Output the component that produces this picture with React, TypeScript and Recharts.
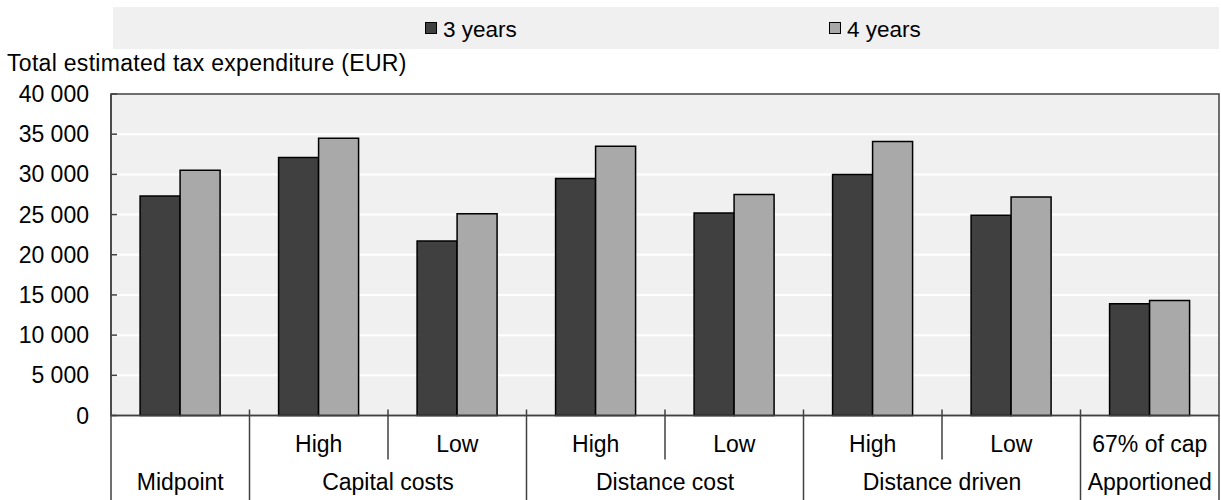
import React from 'react';
import { BarChart, Bar, XAxis, YAxis, CartesianGrid, Legend, ReferenceArea } from 'recharts';

// ---- data ----
const groups = ['Midpoint', 'Capital costs', 'Capital costs', 'Distance cost', 'Distance cost', 'Distance driven', 'Distance driven', 'Apportioned'];
const subLabels = ['', 'High', 'Low', 'High', 'Low', 'High', 'Low', '67% of cap'];
const threeYears = [27300, 32100, 21700, 29500, 25200, 30000, 24900, 13900];
const fourYears = [30500, 34500, 25100, 33500, 27500, 34100, 27200, 14300];
const seriesNames = ['3 years', '4 years'];
const yTicks = [0, 5000, 10000, 15000, 20000, 25000, 30000, 35000, 40000];
const yLabel = 'Total estimated tax expenditure (EUR)';

const data = groups.map((g, i) => ({ id: i, group: g, sub: subLabels[i], y3: threeYears[i], y4: fourYears[i] }));

// ---- layout / style ----
const W = 1221;
const H = 500;
const MARGIN = { top: 94, right: 2, bottom: 0, left: 0 };
const Y_AXIS_W = 111;
const ROW1_H = 40;
const ROW2_H = 44.5;
const PLOT_W = W - MARGIN.left - MARGIN.right - Y_AXIS_W;
const HALF_BAND = PLOT_W / groups.length / 2;
const Y_TICK_MARGIN = 22;
const FONT = '"Liberation Sans", Arial, Helvetica, sans-serif';
const FS = 23;
const LINE = '#404040';
const COLORS = ['#404040', '#a9a9a9'];
const BG = '#f0f0f0';

const fmt = (v: number) => String(v).replace(/\B(?=(\d{3})+(?!\d))/g, ' ');

const YTick = (props: any) => {
  const { x, y, payload } = props;
  return (
    <g>
      <line x1={x + Y_TICK_MARGIN} x2={x + Y_TICK_MARGIN + 6} y1={y} y2={y} stroke={LINE} strokeWidth={1.5} />
      <text x={x} y={y} dy="0.35em" textAnchor="end" fontFamily={FONT} fontSize={FS} fill="#000">
        {fmt(payload.value)}
      </text>
    </g>
  );
};

const SubTick = (props: any) => {
  const { x, y, index } = props;
  const left = x - HALF_BAND;
  const inner = index > 0 && groups[index] === groups[index - 1];
  return (
    <g>
      {index > 0 && <line x1={left} x2={left} y1={y - 6} y2={y} stroke={LINE} strokeWidth={1.5} />}
      {inner && <line x1={left} x2={left} y1={y} y2={y + 44} stroke={LINE} strokeWidth={1.5} />}
      <text x={x} y={y + 36} textAnchor="middle" fontFamily={FONT} fontSize={FS} fill="#000">
        {subLabels[index]}
      </text>
    </g>
  );
};

const GroupTick = (props: any) => {
  const { x, y, index } = props;
  const left = x - HALF_BAND;
  const isStart = index === 0 || groups[index] !== groups[index - 1];
  const isLast = index === groups.length - 1;
  let n = 1;
  while (index + n < groups.length && groups[index + n] === groups[index]) n++;
  return (
    <g>
      {isStart && <line x1={left} x2={left} y1={y - ROW1_H} y2={H} stroke={LINE} strokeWidth={1.5} />}
      {isLast && <line x1={x + HALF_BAND} x2={x + HALF_BAND} y1={y - ROW1_H} y2={H} stroke={LINE} strokeWidth={1.5} />}
      {isStart && (
        <text x={left + n * HALF_BAND} y={y + 34.5} textAnchor="middle" fontFamily={FONT} fontSize={FS} fill="#000">
          {groups[index]}
        </text>
      )}
    </g>
  );
};

const LEG_X = [312, 716];
const LegendContent = () => (
  <div style={{ position: 'relative', width: PLOT_W - 2, height: 42, background: BG, fontFamily: FONT, fontSize: 22.5, color: '#000' }}>
    {seriesNames.map((n, i) => (
      <div key={n} style={{ position: 'absolute', left: LEG_X[i], top: 0, height: 42, display: 'flex', alignItems: 'center' }}>
        <span style={{ display: 'inline-block', width: 10, height: 10, border: '1px solid #000', background: COLORS[i], marginRight: 6 }} />
        <span style={{ paddingTop: 3 }}>{n}</span>
      </div>
    ))}
  </div>
);

export default function App() {
  return (
    <div style={{ position: 'absolute', left: 0, top: 0, width: W, height: H, background: '#fff' }}>
      <BarChart width={W} height={H} data={data} margin={MARGIN} barCategoryGap="21%" barGap={0}>
        <CartesianGrid vertical={false} stroke="#ffffff" strokeWidth={2} fill={BG} xAxisId="a_row1" />
        <XAxis
          xAxisId="a_row1"
          dataKey="id"
          height={ROW1_H}
          tickSize={0}
          tickMargin={0}
          interval={0}
          tick={<SubTick />}
          axisLine={{ stroke: LINE, strokeWidth: 1.5 }}
          tickLine={false}
        />
        <XAxis
          xAxisId="b_row2"
          dataKey="id"
          height={ROW2_H}
          tickSize={0}
          tickMargin={0}
          interval={0}
          tick={<GroupTick />}
          axisLine={false}
          tickLine={false}
        />
        <YAxis
          width={Y_AXIS_W}
          domain={[0, 40000]}
          ticks={yTicks}
          interval={0}
          tickSize={0}
          tickMargin={Y_TICK_MARGIN}
          tick={<YTick />}
          axisLine={{ stroke: LINE, strokeWidth: 1.5 }}
          tickLine={false}
          label={{
            content: () => (
              <text x={7} y={71} fontFamily={FONT} fontSize={FS} letterSpacing={0.3} fill="#000">
                {yLabel}
              </text>
            ),
          }}
        />
        <Legend
          layout="horizontal"
          verticalAlign="middle"
          align="center"
          wrapperStyle={{ top: 7, left: 113, width: PLOT_W - 2, height: 42 }}
          content={<LegendContent />}
        />
        <ReferenceArea xAxisId="a_row1" y1={0} y2={40000} fill="none" stroke={LINE} strokeWidth={1.5} />
        <Bar xAxisId="a_row1" dataKey="y3" name={seriesNames[0]} fill={COLORS[0]} stroke="#000" strokeWidth={1.5} isAnimationActive={false} />
        <Bar xAxisId="a_row1" dataKey="y4" name={seriesNames[1]} fill={COLORS[1]} stroke="#000" strokeWidth={1.5} isAnimationActive={false} />
      </BarChart>
    </div>
  );
}
